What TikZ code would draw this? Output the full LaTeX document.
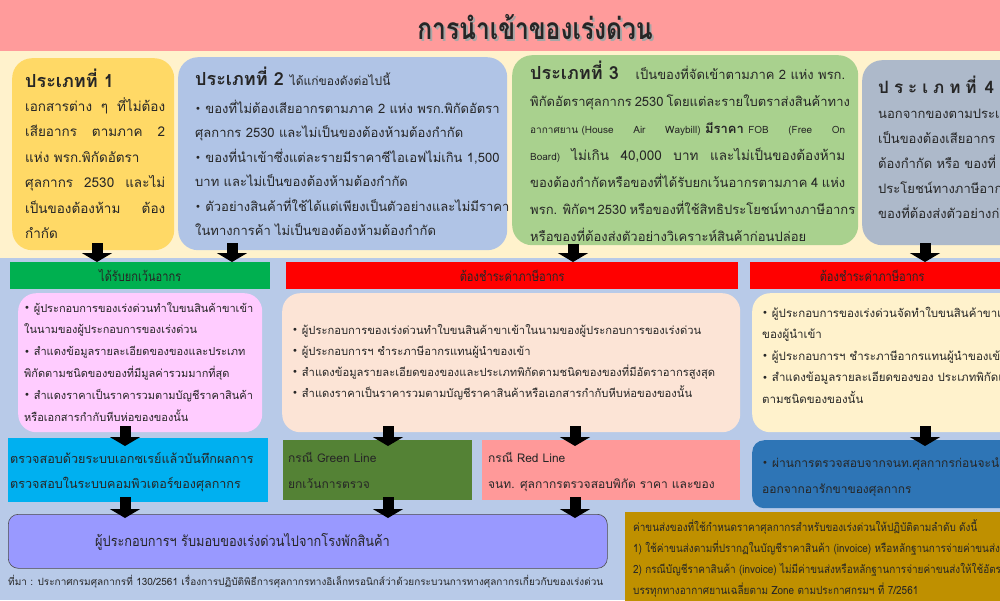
\documentclass[tikz,border=0pt]{standalone}
\usepackage{fontspec}
\newfontfamily\thai[Script=Thai]{Loma}
\newfontfamily\thaic[Script=Thai,FakeStretch=0.82]{Loma}
\newfontfamily\thain[Script=Thai,FakeStretch=0.88]{Loma}
\newfontfamily\dejavu{DejaVu Sans}
\usetikzlibrary{arrows.meta,calc}
\definecolor{titlepink}{HTML}{FF9B9B}
\definecolor{cream}{HTML}{FFF2CC}
\definecolor{bgblue}{HTML}{B8CAE8}
\definecolor{cy1}{HTML}{FFD966}
\definecolor{cb2}{HTML}{B0C4E6}
\definecolor{cg3}{HTML}{A9D18E}
\definecolor{cs4}{HTML}{ADB9CA}
\definecolor{hgreen}{HTML}{00B050}
\definecolor{hred}{HTML}{FF0000}
\definecolor{cpink}{HTML}{FFCCFF}
\definecolor{cpeach}{HTML}{FCE4D6}
\definecolor{clight}{HTML}{FFF2CC}
\definecolor{ccyan}{HTML}{00B0F0}
\definecolor{cgl}{HTML}{548235}
\definecolor{crl}{HTML}{FF9999}
\definecolor{cdb}{HTML}{2E75B6}
\definecolor{cpur}{HTML}{9999FF}
\definecolor{cgold}{HTML}{BF9000}
\definecolor{txt}{HTML}{262626}
\newcommand\jl[2]{\hbox to #1{#2}}
\newcommand\bul{{\dejavu\fontsize{10}{10}\selectfont\raisebox{0.5pt}{•}}\ }
\newcommand\hb{\thai\bfseries\fontsize{18}{22}\selectfont}
\begin{document}
\begin{tikzpicture}[x=1pt,y=-1pt,
  txt/.style={anchor=base west, inner sep=0pt, text=txt},
  boxr/.style={rounded corners=20pt, anchor=north west, inner sep=0pt},
  boxs/.style={anchor=north west, inner sep=0pt},
  bar/.style={anchor=north west, inner sep=0pt, minimum height=27pt},
  bartext/.style={font=\thaic\fontsize{13.5}{15}\selectfont, text=txt, inner sep=0pt},
  bigarr/.style={line width=11pt, black, -{Triangle[width=30pt,length=9pt]}},
  body/.style={font=\thai\fontsize{13}{24.5}\selectfont}
]
\useasboundingbox (0,0) rectangle (1000,600);
\clip (0,0) rectangle (1000,600);
\fill[bgblue] (0,0) rectangle (1000,600);
\fill[cream] (0,50) rectangle (1000,258);
\node[fill=titlepink, minimum width=1000pt, minimum height=51pt, anchor=north west, inner sep=0pt] (band) at (0,0) {};
\node[font=\thaic\bfseries\fontsize{30}{34}\selectfont, text=black!35] (ttlsh) at (537,29) {การนำเข้าของเร่งด่วน};
\node[font=\thaic\bfseries\fontsize{30}{34}\selectfont, text=txt] (ttl) at (535,27) {การนำเข้าของเร่งด่วน};

% top boxes
\node[boxr, fill=cy1, minimum width=162pt, minimum height=192pt] (b1) at (12,58) {};
\node[boxr, fill=cb2, minimum width=329pt, minimum height=193pt] (b2) at (178,57) {};
\node[boxr, fill=cg3, minimum width=346pt, minimum height=190pt] (b3) at (512,55) {};
\node[boxr, fill=cs4, minimum width=170pt, minimum height=185pt] (b4) at (862,60) {};

% box 1 text
\node[txt, font=\hb] (h1) at (25,87) {ประเภทที่ 1};
\node[txt, font=\thai\fontsize{13.5}{25.5}\selectfont] (t1) at (25,111) {\vtop{%
\jl{140pt}{เอกสารต่าง ๆ ที่ไม่ต้อง}
\jl{140pt}{เสียอากร ตามภาค 2}
\hbox{แห่ง พรก.พิกัดอัตรา}
\jl{140pt}{ศุลกากร 2530 และไม่}
\jl{140pt}{เป็นของต้องห้าม ต้อง}
\hbox{กำกัด}}};

% box 2 text
\node[txt, font=\hb] (h2) at (195,85) {ประเภทที่ 2 {\mdseries\fontsize{12}{14}\selectfont ได้แก่ของดังต่อไปนี้}};
\node[txt, body] (t2) at (195,113) {\vtop{%
\hbox{\bul ของที่ไม่ต้องเสียอากรตามภาค 2 แห่ง พรก.พิกัดอัตรา}
\hbox{ศุลกากร 2530 และไม่เป็นของต้องห้ามต้องกำกัด}
\hbox{\bul ของที่นำเข้าซึ่งแต่ละรายมีราคาซีไอเอฟไม่เกิน 1,500}
\hbox{บาท และไม่เป็นของต้องห้ามต้องกำกัด}
\hbox{\bul ตัวอย่างสินค้าที่ใช้ได้แต่เพียงเป็นตัวอย่างและไม่มีราคา}
\hbox{ในทางการค้า ไม่เป็นของต้องห้ามต้องกำกัด}}};

% box 3 text
\node[txt, font=\thai\fontsize{13}{27}\selectfont] (t3) at (530,79) {\vtop{%
\jl{315pt}{\hbox{\hb ประเภทที่ 3}\hfill\hbox{เป็นของที่จัดเข้าตามภาค 2 แห่ง พรก.}}
\jl{315pt}{พิกัดอัตราศุลกากร 2530 โดยแต่ละรายใบตราส่งสินค้าทาง}
\jl{315pt}{{\fontsize{10}{12}\selectfont อากาศยาน (House \hfill Air \hfill Waybill)} \textbf{มีราคา} {\fontsize{10}{12}\selectfont FOB \hfill (Free \hfill On}}
\jl{315pt}{{\fontsize{10}{12}\selectfont Board)} {\fontsize{13.5}{16}\selectfont ไม่เกิน 40,000 บาท และไม่เป็นของต้องห้าม}}
\jl{315pt}{ของต้องกำกัดหรือของที่ได้รับยกเว้นอากรตามภาค 4 แห่ง}
\jl{315pt}{พรก. พิกัดฯ 2530 หรือของที่ใช้สิทธิประโยชน์ทางภาษีอากร}
\hbox{หรือของที่ต้องส่งตัวอย่างวิเคราะห์สินค้าก่อนปล่อย}}};

% box 4 text
\node[txt, font=\thai\bfseries\fontsize{17}{20}\selectfont] (h4) at (878,93) {ป\kern5pt ร\kern5pt ะ\kern5pt เ\kern5pt ภ\kern5pt ท\kern5pt ที่\kern8pt 4};
\node[txt, font=\thai\fontsize{13}{25.2}\selectfont] (t4) at (878,118) {\vtop{%
\hbox{นอกจากของตามประเภท}
\hbox{เป็นของต้องเสียอากร ของ}
\hbox{ต้องกำกัด หรือ ของที่}
\hbox{ประโยชน์ทางภาษีอากร}
\hbox{ของที่ต้องส่งตัวอย่างก่อน}}};

% header bars
\node[bar, fill=hgreen, minimum width=260pt] (hg) at (10,262) {};
\node[bartext] (hgt) at (hg.center) {ได้รับยกเว้นอากร};
\node[bar, fill=hred, minimum width=452pt] (hr1) at (286,262) {};
\node[bartext] (hr1t) at (hr1.center) {ต้องชำระค่าภาษีอากร};
\node[bar, fill=hred, minimum width=260pt] (hr2) at (750,262) {};
\node[bartext] (hr2t) at ([xshift=-8pt]hr2.center) {ต้องชำระค่าภาษีอากร};

% second row boxes
\node[boxr, rounded corners=18pt, fill=cpink, minimum width=244pt, minimum height=139pt] (p1) at (18,293) {};
\node[boxr, rounded corners=18pt, fill=cpeach, minimum width=458pt, minimum height=139pt] (p2) at (282,293) {};
\node[boxr, rounded corners=18pt, fill=clight, minimum width=270pt, minimum height=139pt] (p3) at (752,293) {};

\node[txt, font=\thai\fontsize{11}{21.8}\selectfont] (tp1) at (24,312) {\vtop{%
\hbox{\bul ผู้ประกอบการของเร่งด่วนทำใบขนสินค้าขาเข้า}
\hbox{ในนามของผู้ประกอบการของเร่งด่วน}
\hbox{\bul สำแดงข้อมูลรายละเอียดของของและประเภท}
\hbox{พิกัดตามชนิดของของที่มีมูลค่ารวมมากที่สุด}
\hbox{\bul สำแดงราคาเป็นราคารวมตามบัญชีราคาสินค้า}
\hbox{หรือเอกสารกำกับหีบห่อของของนั้น}}};

\node[txt, font=\thai\fontsize{11.2}{21}\selectfont] (tp2) at (292,334) {\vtop{%
\hbox{\bul ผู้ประกอบการของเร่งด่วนทำใบขนสินค้าขาเข้าในนามของผู้ประกอบการของเร่งด่วน}
\hbox{\bul ผู้ประกอบการฯ ชำระภาษีอากรแทนผู้นำของเข้า}
\hbox{\bul สำแดงข้อมูลรายละเอียดของของและประเภทพิกัดตามชนิดของของที่มีอัตราอากรสูงสุด}
\hbox{\bul สำแดงราคาเป็นราคารวมตามบัญชีราคาสินค้าหรือเอกสารกำกับหีบห่อของของนั้น}}};

\node[txt, font=\thai\fontsize{11.5}{21.5}\selectfont] (tp3) at (762,317) {\vtop{%
\hbox{\bul ผู้ประกอบการของเร่งด่วนจัดทำใบขนสินค้าขาเข้าในนาม}
\hbox{ของผู้นำเข้า}
\hbox{\bul ผู้ประกอบการฯ ชำระภาษีอากรแทนผู้นำของเข้า}
\hbox{\bul สำแดงข้อมูลรายละเอียดของของ ประเภทพิกัดและราคา}
\hbox{ตามชนิดของของนั้น}}};

% third row
\node[boxs, fill=ccyan, minimum width=260pt, minimum height=64pt] (c1) at (8,438) {};
\node[boxs, fill=cgl, minimum width=189pt, minimum height=60pt] (c2) at (283,440) {};
\node[boxs, fill=crl, minimum width=258pt, minimum height=60pt] (c3) at (482,440) {};
\node[boxr, rounded corners=12pt, fill=cdb, minimum width=270pt, minimum height=68pt] (c4) at (752,440) {};

\node[txt, font=\thai\fontsize{12.6}{25}\selectfont] (tc1) at (10,463) {\vtop{%
\hbox{ตรวจสอบด้วยระบบเอกซเรย์แล้วบันทึกผลการ}
\hbox{ตรวจสอบในระบบคอมพิวเตอร์ของศุลกากร}}};
\node[txt, font=\thai\fontsize{12}{26}\selectfont] (tc2) at (288,462) {\vtop{%
\hbox{กรณี Green Line}
\hbox{ยกเว้นการตรวจ}}};
\node[txt, font=\thai\fontsize{12}{26}\selectfont] (tc3) at (488,462) {\vtop{%
\hbox{กรณี Red Line}
\hbox{จนท. ศุลกากรตรวจสอบพิกัด ราคา และของ}}};
\node[txt, font=\thai\fontsize{12}{26}\selectfont] (tc4) at (762,467) {\vtop{%
\hbox{\bul ผ่านการตรวจสอบจากจนท.ศุลกากรก่อนจะนำของ}
\hbox{ออกจากอารักขาของศุลกากร}}};

% bottom row
\node[boxr, rounded corners=10pt, fill=cpur, draw=black!70, line width=0.6pt, minimum width=599pt, minimum height=54pt] (d1) at (8,514) {};
\node[txt, font=\thain\fontsize{14.5}{16}\selectfont] (td1) at (95,546) {ผู้ประกอบการฯ รับมอบของเร่งด่วนไปจากโรงพักสินค้า};
\node[txt, font=\thai\fontsize{10}{12}\selectfont] (src) at (8,585) {ที่มา : ประกาศกรมศุลกากรที่ 130/2561 เรื่องการปฏิบัติพิธีการศุลกากรทางอิเล็กทรอนิกส์ว่าด้วยกระบวนการทางศุลกากรเกี่ยวกับของเร่งด่วน};

\node[boxs, fill=cgold, minimum width=385pt, minimum height=92pt] (d2) at (625,512) {};
\node[txt, font=\thain\fontsize{11.3}{21}\selectfont] (td2) at (633,531) {\vtop{%
\hbox{ค่าขนส่งของที่ใช้กำหนดราคาศุลกากรสำหรับของเร่งด่วนให้ปฏิบัติตามลำดับ ดังนี้}
\hbox{1) ใช้ค่าขนส่งตามที่ปรากฏในบัญชีราคาสินค้า (invoice) หรือหลักฐานการจ่ายค่าขนส่ง}
\hbox{2) กรณีบัญชีราคาสินค้า (invoice) ไม่มีค่าขนส่งหรือหลักฐานการจ่ายค่าขนส่งให้ใช้อัตรา}
\hbox{บรรทุกทางอากาศยานเฉลี่ยตาม Zone ตามประกาศกรมฯ ที่ 7/2561}}};

% arrows
\coordinate (a1) at (97,243);
\coordinate (a2) at (232,243);
\coordinate (a3) at (573,244);
\coordinate (a4) at (925,243);
\draw[bigarr] (a1) -- (a1 |- hg.north);
\draw[bigarr] (a2) -- (a2 |- hg.north);
\draw[bigarr] (a3) -- (a3 |- hr1.north);
\draw[bigarr] (a4) -- (a4 |- hr2.north);
\coordinate (a5) at (125,426);
\coordinate (a6) at (388,426);
\coordinate (a7) at (575,426);
\coordinate (a8) at (925,426);
\draw[bigarr] (a5) -- ([yshift=-8pt]a5 |- c1.north);
\draw[bigarr] (a6) -- ([yshift=-6pt]a6 |- c2.north);
\draw[bigarr] (a7) -- ([yshift=-6pt]a7 |- c3.north);
\draw[bigarr] (a8) -- ([yshift=-6pt]a8 |- c4.north);
\coordinate (a9) at (125,497);
\coordinate (a10) at (388,497);
\coordinate (a11) at (575,497);
\draw[bigarr] (a9) -- ([yshift=-4pt]a9 |- d1.north);
\draw[bigarr] (a10) -- ([yshift=-4pt]a10 |- d1.north);
\draw[bigarr] (a11) -- ([yshift=-4pt]a11 |- d1.north);
\end{tikzpicture}
\end{document}
